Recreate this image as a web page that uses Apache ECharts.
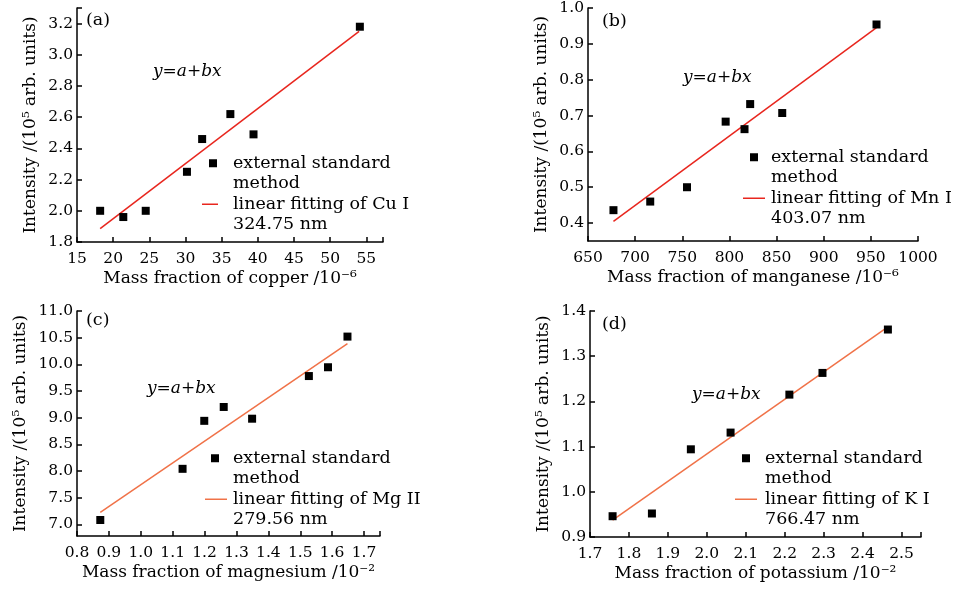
<!DOCTYPE html>
<html>
<head>
<meta charset="utf-8">
<script src="https://cdn.jsdelivr.net/npm/echarts@6/dist/echarts.min.js"></script>
<style>
	html,body{margin:0;padding:0;background:#fff;}
	#main{width:958px;height:590px;}
</style>
</head>
<body>
<div id="main"></div>
<script>
	// (a) copper, Cu I 324.75 nm
	var cuX = [18.2, 21.4, 24.5, 30.2, 32.3, 36.2, 39.4, 54.1];
	var cuY = [2.00, 1.96, 2.00, 2.25, 2.46, 2.62, 2.49, 3.18];
	var cuFitX = [18.2, 54.0];
	var cuFitY = [1.886, 3.15];
	var cuXTicks = [15, 20, 25, 30, 35, 40, 45, 50, 55];
	var cuYTicks = [1.8, 2.0, 2.2, 2.4, 2.6, 2.8, 3.0, 3.2];

	// (b) manganese, Mn I 403.07 nm
	var mnX = [677, 716, 755, 796, 816, 822, 856, 956];
	var mnY = [0.436, 0.46, 0.50, 0.683, 0.662, 0.732, 0.707, 0.954];
	var mnFitX = [677, 956];
	var mnFitY = [0.405, 0.945];
	var mnXTicks = [650, 700, 750, 800, 850, 900, 950, 1000];
	var mnYTicks = [0.4, 0.5, 0.6, 0.7, 0.8, 0.9, 1.0];

	// (c) magnesium, Mg II 279.56 nm
	var mgX = [0.873, 1.131, 1.199, 1.26, 1.349, 1.527, 1.587, 1.648];
	var mgY = [7.08, 8.04, 8.94, 9.20, 8.98, 9.78, 9.945, 10.52];
	var mgFitX = [0.873, 1.648];
	var mgFitY = [7.225, 10.39];
	var mgXTicks = [0.8, 0.9, 1.0, 1.1, 1.2, 1.3, 1.4, 1.5, 1.6, 1.7];
	var mgYTicks = [7.0, 7.5, 8.0, 8.5, 9.0, 9.5, 10.0, 10.5, 11.0];

	// (d) potassium, K I 766.47 nm
	var kX = [1.758, 1.859, 1.959, 2.061, 2.212, 2.297, 2.465];
	var kY = [0.946, 0.952, 1.094, 1.131, 1.215, 1.263, 1.359];
	var kFitX = [1.758, 2.465];
	var kFitY = [0.9375, 1.365];
	var kXTicks = [1.7, 1.8, 1.9, 2.0, 2.1, 2.2, 2.3, 2.4, 2.5];
	var kYTicks = [0.9, 1.0, 1.1, 1.2, 1.3, 1.4];

	var pointName = 'external standard\nmethod';
	var serif = '"DejaVu Serif", serif';

	var panels = [
		{grid:{left:77, top:8, width:306, height:234},
		 xMin:15, xMax:57.3, xTicks:cuXTicks, xDigits:0,
		 yMin:1.8, yMax:3.3, yTicks:cuYTicks, yDigits:1,
		 xName:'Mass fraction of copper /10⁻⁶', yNameGap:38,
		 px:cuX, py:cuY, fx:cuFitX, fy:cuFitY, color:'#e8261e',
		 fitName:'linear fitting of Cu I\n324.75 nm',
		 legend:{left:202, top:153, w:26, line:16, sq:11},
		 tag:'(a)', tagPos:[86, 20], eqPos:[153, 72]},
		{grid:{left:588, top:7, width:330, height:234},
		 xMin:650, xMax:1000, xTicks:mnXTicks, xDigits:0,
		 yMin:0.35, yMax:1.0, yTicks:mnYTicks, yDigits:1,
		 xName:'Mass fraction of manganese /10⁻⁶', yNameGap:38,
		 px:mnX, py:mnY, fx:mnFitX, fy:mnFitY, color:'#e8261e',
		 fitName:'linear fitting of Mn I\n403.07 nm',
		 legend:{left:743, top:147, w:23, line:22, sq:11},
		 tag:'(b)', tagPos:[602, 21], eqPos:[683, 78]},
		{grid:{left:77, top:311, width:303, height:225},
		 xMin:0.8, xMax:1.75, xTicks:mgXTicks, xDigits:1,
		 yMin:6.78, yMax:11.0, yTicks:mgYTicks, yDigits:1,
		 xName:'Mass fraction of magnesium /10⁻²', yNameGap:48,
		 px:mgX, py:mgY, fx:mgFitX, fy:mgFitY, color:'#f07248',
		 fitName:'linear fitting of Mg II\n279.56 nm',
		 legend:{left:205, top:448, w:23, line:22, sq:10},
		 tag:'(c)', tagPos:[86, 320], eqPos:[147, 389]},
		{grid:{left:590, top:311, width:331, height:226},
		 xMin:1.7, xMax:2.55, xTicks:kXTicks, xDigits:1,
		 yMin:0.9, yMax:1.4, yTicks:kYTicks, yDigits:1,
		 xName:'Mass fraction of potassium /10⁻²', yNameGap:38,
		 px:kX, py:kY, fx:kFitX, fy:kFitY, color:'#f07248',
		 fitName:'linear fitting of K I\n766.47 nm',
		 legend:{left:735, top:448, w:25, line:22, sq:11},
		 tag:'(d)', tagPos:[602, 324], eqPos:[692, 395]}
	];

	function pairs(xs, ys){
		var out = [];
		for(var i = 0;i < xs.length;i++){
			out.push([xs[i], ys[i]]);
		}
		return out;
	}

	function axisCommon(){
		return {
			type:'value',
			splitLine:{show:false},
			axisLine:{show:true, onZero:false, lineStyle:{color:'#000', width:1.5}},
			axisTick:{show:true, inside:true, length:5, lineStyle:{color:'#000', width:1.5}},
			axisLabel:{color:'#000', fontFamily:serif, fontSize:15.5},
			nameTextStyle:{color:'#000', fontFamily:serif, fontSize:17}
		};
	}

	var option = {
		animation:false,
		backgroundColor:'#fff',
		grid:[], xAxis:[], yAxis:[], series:[], legend:[], graphic:[]
	};

	for(var i = 0;i < panels.length;i++){
		var p = panels[i];
		option.grid.push(p.grid);

		var xa = axisCommon();
		xa.gridIndex = i;
		xa.min = p.xMin;
		xa.max = p.xMax;
		xa.name = p.xName;
		xa.nameLocation = 'middle';
		xa.nameGap = 28;
		xa.axisLabel.margin = 9;
		xa.axisLabel.customValues = p.xTicks;
		xa.axisLabel.formatter = (function(d){ return function(v){ return v.toFixed(d); }; })(p.xDigits);
		xa.axisTick.customValues = p.xTicks.concat([p.xMax]);
		option.xAxis.push(xa);

		var ya = axisCommon();
		ya.gridIndex = i;
		ya.min = p.yMin;
		ya.max = p.yMax;
		ya.name = 'Intensity /(10⁵ arb. units)';
		ya.nameLocation = 'middle';
		ya.nameGap = p.yNameGap;
		ya.axisLabel.margin = 4;
		ya.axisLabel.customValues = p.yTicks;
		ya.axisLabel.formatter = (function(d){ return function(v){ return v.toFixed(d); }; })(p.yDigits);
		ya.axisTick.customValues = p.yTicks.concat([p.yMax]);
		option.yAxis.push(ya);

		option.series.push({
			name:p.fitName, type:'line', xAxisIndex:i, yAxisIndex:i,
			data:pairs(p.fx, p.fy), symbol:'none', silent:true, z:2,
			color:p.color, lineStyle:{color:p.color, width:1.5}
		});
		option.series.push({
			name:pointName, type:'scatter', xAxisIndex:i, yAxisIndex:i,
			data:pairs(p.px, p.py), symbol:'rect', symbolSize:8, silent:true, z:3,
			itemStyle:{color:'#000', opacity:1}
		});

		var lg = p.legend;
		var box = 'path://M0,0M' + lg.w + ',41';
		option.legend.push({
			orient:'vertical', left:lg.left, top:lg.top, padding:0, itemGap:0,
			itemWidth:lg.w, itemHeight:41, selectedMode:false,
			itemStyle:{borderWidth:0, opacity:1},
			textStyle:{color:'#000', fontFamily:serif, fontSize:17.5, lineHeight:20.5},
			data:[
				{name:pointName, icon:box + 'M' + (lg.sq - 4) + ',6.25h8v8h-8z'},
				{name:p.fitName, icon:box + 'M0,9.5h' + lg.line + 'v1.5h-' + lg.line + 'z'}
			]
		});

		option.graphic.push({
			type:'text', x:p.tagPos[0], y:p.tagPos[1], silent:true,
			style:{text:p.tag, fill:'#000', font:'17.5px ' + serif, verticalAlign:'middle'}
		});
		option.graphic.push({
			type:'text', x:p.eqPos[0], y:p.eqPos[1], silent:true,
			style:{text:'y=a+bx', fill:'#000', font:'italic 17px ' + serif, verticalAlign:'middle'}
		});
	}

	var chart = echarts.init(document.getElementById('main'));
	chart.setOption(option);
</script>
</body>
</html>
